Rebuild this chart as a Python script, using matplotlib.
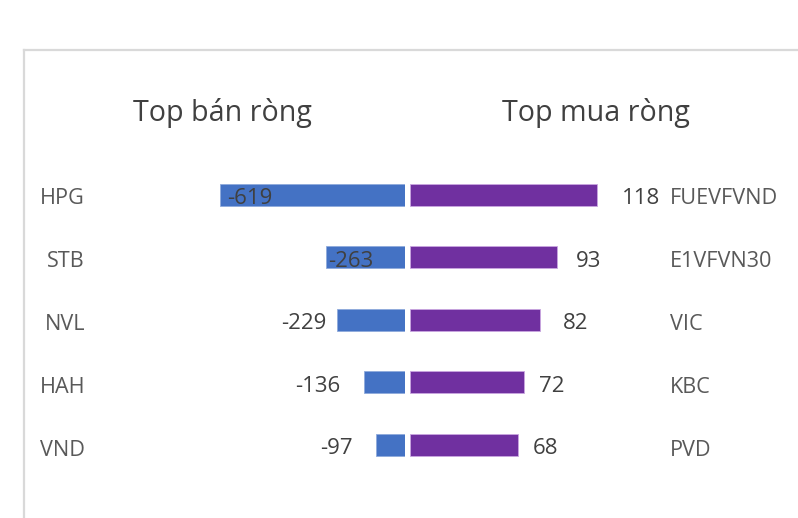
import matplotlib
matplotlib.use("Agg")
import matplotlib.pyplot as plt
from matplotlib.lines import Line2D

# ---------------- data ----------------
sell_tickers = ["HPG", "STB", "NVL", "HAH", "VND"]
sell_values = [-619, -263, -229, -136, -97]
buy_tickers = ["FUEVFVND", "E1VFVN30", "VIC", "KBC", "PVD"]
buy_values = [118, 93, 82, 72, 68]
titles = ["Top bán ròng", "Top mua ròng"]

# ---------------- layout (pixels) ----------------
W, H = 798, 518
DPI = 100
plt.rcParams["font.family"] = ["Open Sans", "DejaVu Sans"]
fig = plt.figure(figsize=(W / DPI, H / DPI), dpi=DPI)
fig.patch.set_facecolor("white")

def fx(px):
    return px / W

def fy(py):
    return 1 - py / H

frame_left, frame_top = 24, 50
zero_left, zero_right = 405, 410
left_scale = 185 / 619      # px per unit
right_scale = 187 / 118
row0, row_step = 196, 62.75
bar_px = 22

# border of chart area
fig.add_artist(Line2D([fx(frame_left), fx(frame_left)], [0, fy(frame_top)],
                      color="#D9D9D9", lw=1.6, transform=fig.transFigure))
fig.add_artist(Line2D([fx(frame_left), 1], [fy(frame_top), fy(frame_top)],
                      color="#D9D9D9", lw=1.6, transform=fig.transFigure))

ax_h_px = H - frame_top
ytop = -(row0 - frame_top) / row_step
ybot = ytop + ax_h_px / row_step
bar_h = bar_px / row_step

axL = fig.add_axes([fx(frame_left + 2), 0, fx(zero_left - frame_left - 2), fy(frame_top + 2)])
axL.set_xlim(-(zero_left - frame_left - 2) / left_scale, 0)
axR = fig.add_axes([fx(zero_right), 0, fx(W - zero_right), fy(frame_top + 2)])
axR.set_xlim(0, (W - zero_right) / right_scale)
for ax in (axL, axR):
    ax.set_ylim(ybot + 2.5 / row_step, ytop + 2.5 / row_step)
    ax.axis("off")
    ax.patch.set_alpha(0)

rows = list(range(len(sell_values)))
axL.barh(rows, sell_values, height=bar_h, color="#4472C4", edgecolor="#8FAADC", linewidth=0.6)
axR.barh(rows, buy_values, height=bar_h, color="#7030A0", edgecolor="#C9A6E0", linewidth=0.6)

val_color = "#404040"
cat_color = "#595959"
fs_val = 16
fs_cat = 15.6

sell_off = [7, 2, -10, -24, -23]
sell_ha = ["left", "left", "right", "right", "right"]
for i, (v, o, ha) in enumerate(zip(sell_values, sell_off, sell_ha)):
    axL.annotate(f"{v}", xy=(v, i), xytext=(o, -9.5), textcoords="offset pixels",
                 ha=ha, va="baseline", fontsize=fs_val, color=val_color)

buy_off = [25, 18, 23, 15, 15]
for i, (v, o) in enumerate(zip(buy_values, buy_off)):
    axR.annotate(f"{v}", xy=(v, i), xytext=(o, -9.5), textcoords="offset pixels",
                 ha="left", va="baseline", fontsize=fs_val, color=val_color)

for i, t in enumerate(sell_tickers):
    fig.text(fx(85), fy(row0 + i * row_step + 8.5), t, ha="right", va="baseline",
             fontsize=fs_cat, color=cat_color)
for i, t in enumerate(buy_tickers):
    fig.text(fx(670), fy(row0 + i * row_step + 8.5), t, ha="left", va="baseline",
             fontsize=fs_cat, color=cat_color)

fig.text(fx(222), fy(121), titles[0], ha="center", va="baseline", fontsize=20.6, color="#404040")
fig.text(fx(596), fy(121), titles[1], ha="center", va="baseline", fontsize=20.6, color="#404040")

fig.savefig("out.png", dpi=DPI, facecolor="white")
